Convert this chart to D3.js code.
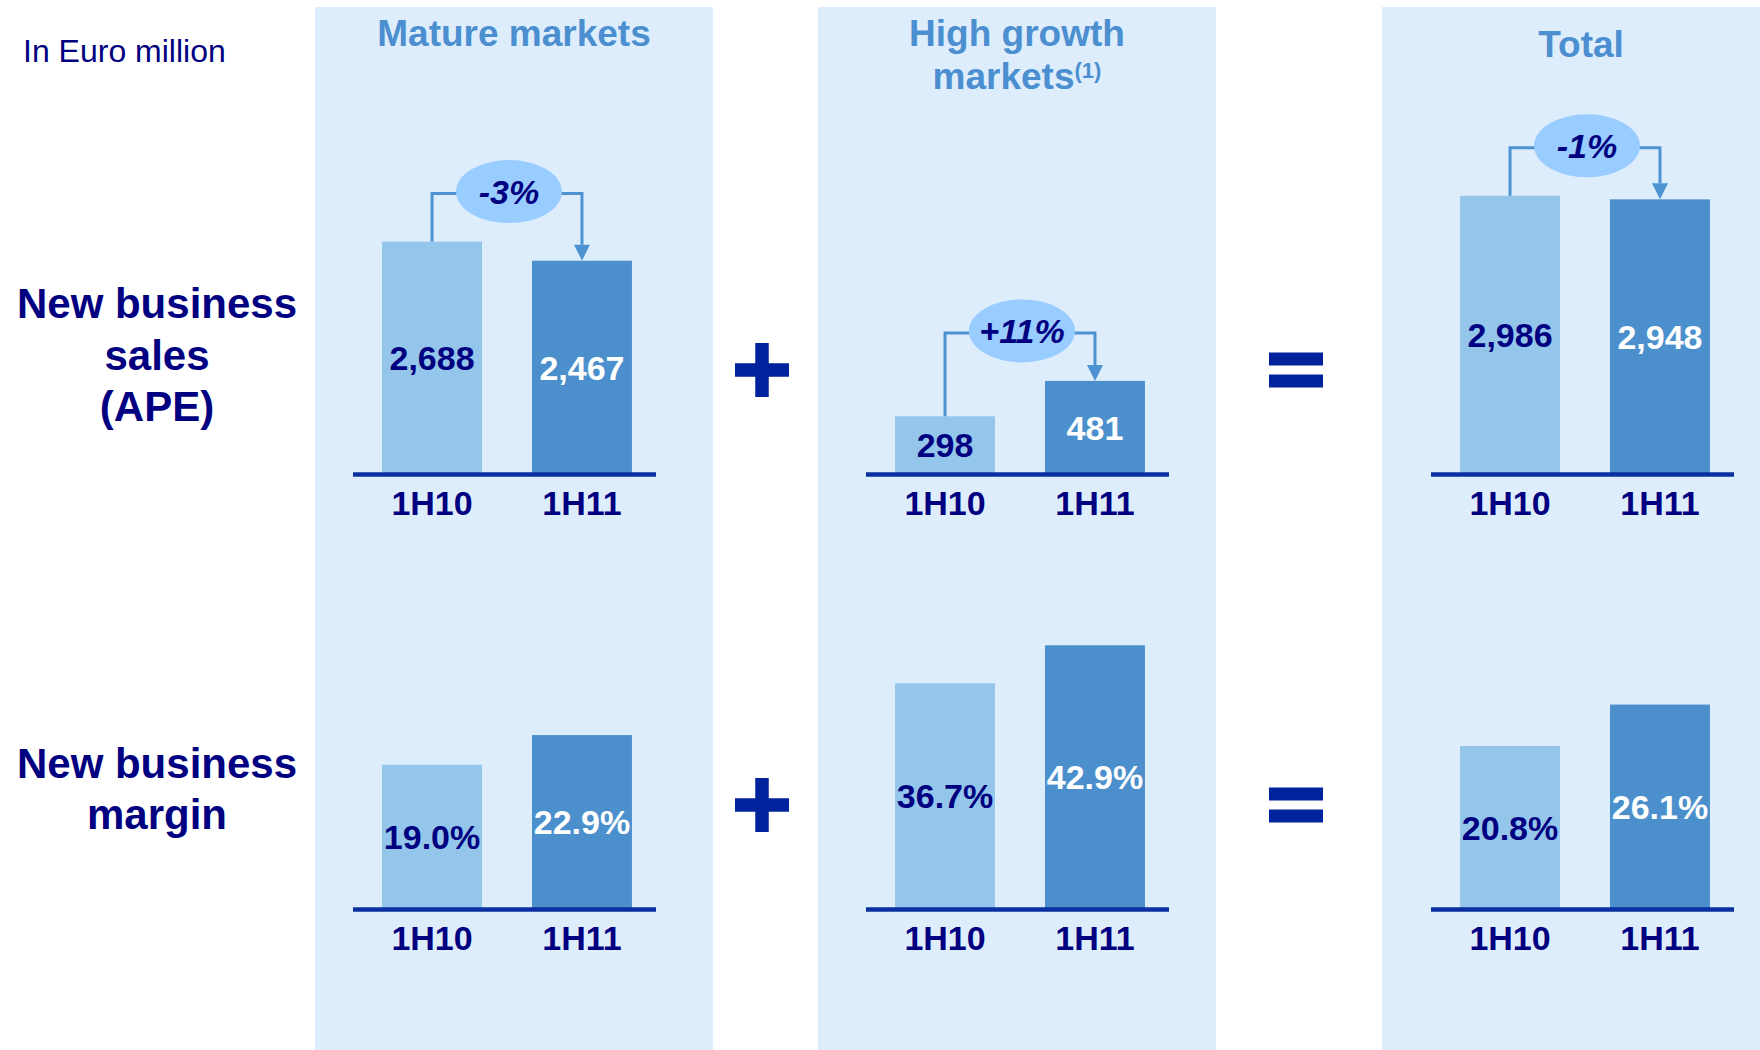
<!DOCTYPE html>
<html>
<head>
<meta charset="utf-8">
<script src="https://cdn.jsdelivr.net/npm/d3@7"></script>
<style>
  html, body { margin: 0; padding: 0; background: #ffffff; }
  svg { display: block; }
  text { font-family: "Liberation Sans", Arial, Helvetica, sans-serif; }
</style>
</head>
<body>
<svg id="chart" width="1760" height="1050"></svg>
<script>
// ---- Data -------------------------------------------------------------
const periods = ["1H10", "1H11"];
const panelTitles = ["Mature markets", "High growth markets", "Total"];

// New business sales (APE), in Euro million
const matureSales = [2688, 2467];
const growthSales = [298, 481];
const totalSales = [2986, 2948];
const salesChange = ["-3%", "+11%", "-1%"];

// New business margin, in %
const matureMargin = [19.0, 22.9];
const growthMargin = [36.7, 42.9];
const totalMargin = [20.8, 26.1];

const rowLabels = [["New business", "sales", "(APE)"], ["New business", "margin"]];
const unitLabel = "In Euro million";

// Upper end of each panel's value axis (one chart height)
const salesAxisMax = [3470, 1550, 3220];
const marginAxisMax = [39.5, 48.8, 38.3];

// ---- Layout & style ---------------------------------------------------
const W = 1760, H = 1050;
const panelX = [315, 818, 1382];
const panelW = 398;
const panelTop = 7;
const axisX = [353, 866, 1431];
const axisW = 303;
const rowBase = [474, 909];
const chartH = 300;

const C = {
  panel: "#deedfc",
  light: "#93c6ea",
  dark: "#4b90cc",
  navy: "#000080",
  axis: "#0a2fa0",
  title: "#4b8fd0",
  bubble: "#99ccff",
  connector: "#4d93d2",
  op: "#00229c"
};

const svg = d3.select("#chart");

// Panel backgrounds
svg.selectAll("rect.panel")
  .data(panelX)
  .join("rect")
  .attr("class", "panel")
  .attr("x", d => d)
  .attr("y", panelTop)
  .attr("width", panelW)
  .attr("height", H - panelTop)
  .attr("fill", C.panel);

// Unit label
svg.append("text")
  .attr("x", 23).attr("y", 62)
  .attr("font-size", 32)
  .attr("fill", C.navy)
  .text(unitLabel);

// Panel titles
const titleSize = 37;
const panelCx = panelX.map(x => x + panelW / 2);
svg.append("text")
  .attr("x", panelCx[0]).attr("y", 46)
  .attr("text-anchor", "middle").attr("font-size", titleSize).attr("font-weight", "bold")
  .attr("fill", C.title).text(panelTitles[0]);
{
  const words = panelTitles[1].split(" ");
  svg.append("text")
    .attr("x", panelCx[1]).attr("y", 46)
    .attr("text-anchor", "middle").attr("font-size", titleSize).attr("font-weight", "bold")
    .attr("fill", C.title).text(words.slice(0, 2).join(" "));
  const t = svg.append("text")
    .attr("x", panelCx[1]).attr("y", 89)
    .attr("text-anchor", "middle").attr("font-size", titleSize).attr("font-weight", "bold")
    .attr("fill", C.title);
  t.append("tspan").text(words[2]);
  t.append("tspan").attr("font-size", 22).attr("dy", -11).text("(1)");
}
svg.append("text")
  .attr("x", panelCx[2]).attr("y", 57)
  .attr("text-anchor", "middle").attr("font-size", titleSize).attr("font-weight", "bold")
  .attr("fill", C.title).text(panelTitles[2]);

// Row labels
const rowLabelBase = [[318, 370, 421], [778, 829]];
rowLabels.forEach((lines, r) => {
  lines.forEach((line, i) => {
    svg.append("text")
      .attr("x", 157).attr("y", rowLabelBase[r][i])
      .attr("text-anchor", "middle").attr("font-size", 42).attr("font-weight", "bold")
      .attr("fill", C.navy).text(line);
  });
});

// ---- Bar panels -------------------------------------------------------
const rows = [
  { base: rowBase[0], series: [matureSales, growthSales, totalSales], max: salesAxisMax,
    fmt: d3.format(",.0f"), change: salesChange },
  { base: rowBase[1], series: [matureMargin, growthMargin, totalMargin], max: marginAxisMax,
    fmt: d => d3.format(".1f")(d) + "%", change: null }
];

rows.forEach(row => {
  row.series.forEach((values, p) => {
    const x = d3.scaleBand()
      .domain(periods)
      .range([axisX[p], axisX[p] + axisW])
      .paddingInner(1 / 3)
      .paddingOuter(0.177)
      .align(0.547);
    const y = d3.scaleLinear()
      .domain([0, row.max[p]])
      .range([row.base, row.base - chartH]);

    const g = svg.append("g");
    const data = periods.map((k, i) => ({ k, v: values[i], i }));

    g.selectAll("rect.bar")
      .data(data)
      .join("rect")
      .attr("class", "bar")
      .attr("x", d => x(d.k))
      .attr("width", x.bandwidth())
      .attr("y", d => y(d.v))
      .attr("height", d => y(0) - y(d.v))
      .attr("fill", d => d.i === 0 ? C.light : C.dark);

    // Baseline
    g.append("line")
      .attr("x1", axisX[p]).attr("x2", axisX[p] + axisW)
      .attr("y1", row.base + 0.5).attr("y2", row.base + 0.5)
      .attr("stroke", C.axis).attr("stroke-width", 4.5);

    // Category labels
    g.selectAll("text.cat")
      .data(data)
      .join("text")
      .attr("class", "cat")
      .attr("x", d => x(d.k) + x.bandwidth() / 2)
      .attr("y", row.base + 41)
      .attr("text-anchor", "middle").attr("font-size", 34).attr("font-weight", "bold")
      .attr("fill", C.navy)
      .text(d => d.k);

    // Value labels inside bars
    g.selectAll("text.val")
      .data(data)
      .join("text")
      .attr("class", "val")
      .attr("x", d => x(d.k) + x.bandwidth() / 2)
      .attr("y", d => (y(d.v) + y(0)) / 2)
      .attr("dy", "0.36em")
      .attr("text-anchor", "middle").attr("font-size", 34).attr("font-weight", "bold")
      .attr("fill", d => d.i === 0 ? C.navy : "#ffffff")
      .text(d => row.fmt(d.v));

    // Growth bubble with elbow arrow from 1H10 to 1H11
    if (row.change) {
      const cx0 = x(periods[0]) + x.bandwidth() / 2;
      const cx1 = x(periods[1]) + x.bandwidth() / 2;
      const top0 = y(values[0]);
      const top1 = y(values[1]);
      const ly = Math.min(top0, top1) - 48;
      const head = 16;
      g.append("path")
        .attr("d", `M${cx0},${top0} V${ly} H${cx1} V${top1 - head}`)
        .attr("fill", "none")
        .attr("stroke", C.connector)
        .attr("stroke-width", 3);
      g.append("path")
        .attr("d", `M${cx1 - 8},${top1 - head} L${cx1 + 8},${top1 - head} L${cx1},${top1} Z`)
        .attr("fill", C.connector);
      const bx = (cx0 + cx1) / 2 + 2;
      g.append("ellipse")
        .attr("cx", bx).attr("cy", ly - 2)
        .attr("rx", 53).attr("ry", 31.5)
        .attr("fill", C.bubble);
      g.append("text")
        .attr("x", bx).attr("y", ly - 2)
        .attr("dy", "0.36em")
        .attr("text-anchor", "middle").attr("font-size", 34)
        .attr("font-weight", "bold").attr("font-style", "italic")
        .attr("fill", C.navy)
        .text(row.change[p]);
    }
  });
});

// ---- Plus and equals operators ---------------------------------------
const opSize = 54, opT = 13.5;
rowBase.forEach((b, r) => {
  const cy = r === 0 ? 370 : 805;
  const px = 762;
  svg.append("rect").attr("x", px - opSize / 2).attr("y", cy - opT / 2)
    .attr("width", opSize).attr("height", opT).attr("fill", C.op);
  svg.append("rect").attr("x", px - opT / 2).attr("y", cy - opSize / 2)
    .attr("width", opT).attr("height", opSize).attr("fill", C.op);
  const ex = 1296;
  [-17.5, 4.5].forEach(off => {
    svg.append("rect").attr("x", ex - opSize / 2).attr("y", cy + off)
      .attr("width", opSize).attr("height", 13).attr("fill", C.op);
  });
});
</script>
</body>
</html>
